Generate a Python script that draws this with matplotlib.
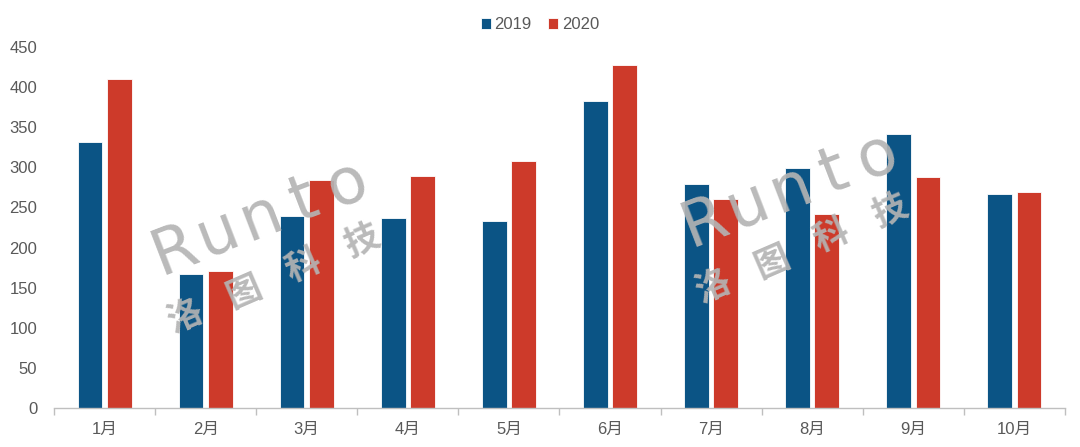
import matplotlib
matplotlib.use("Agg")
import matplotlib.pyplot as plt
import numpy as np

months = ["1月", "2月", "3月", "4月", "5月", "6月", "7月", "8月", "9月", "10月"]
v2019 = [331, 167, 239, 237, 233, 383, 279, 299, 341, 267]
v2020 = [410, 171, 284, 289, 308, 428, 260, 242, 288, 269]
yticks = [0, 50, 100, 150, 200, 250, 300, 350, 400, 450]

plt.rcParams['font.family'] = ['Liberation Sans', 'Noto Sans CJK SC', 'DejaVu Sans']

c19 = "#0b5485"
c20 = "#cd3a2a"

W, H = 1080, 447
fig = plt.figure(figsize=(10.8, 4.47), dpi=100)
ax = fig.add_axes([0.05, 0.087, 0.936, 0.808])
x = np.arange(len(months))
w = 0.245
ax.bar(x - 0.145, v2019, w, color=c19, edgecolor="white", linewidth=0.6, label="2019", zorder=2)
ax.bar(x + 0.145, v2020, w, color=c20, edgecolor="white", linewidth=0.6, label="2020", zorder=2)

ax.set_xlim(-0.5, len(months) - 0.5)
ax.set_ylim(0, 450)
ax.set_yticks(yticks)
ax.set_xticks(x)
ax.set_xticklabels(months)
ax.set_xticks(np.arange(-0.5, len(months)), minor=True)
ax.tick_params(axis='x', which='major', length=0, pad=10, labelsize=12, labelcolor="#595959")
ax.tick_params(axis='x', which='minor', length=5, color="#bfbfbf", width=1)
ax.tick_params(axis='y', length=0, labelsize=12, labelcolor="#595959", pad=12)
for s in ["top", "right", "left"]:
    ax.spines[s].set_visible(False)
ax.spines["bottom"].set_color("#bfbfbf")
ax.spines["bottom"].set_linewidth(1)

leg = fig.legend(loc="upper center", bbox_to_anchor=(0.5, 0.995), ncol=2, frameon=False,
                 fontsize=12, handlelength=0.6, handleheight=0.6, handletextpad=0.2,
                 columnspacing=1.0, labelcolor="#595959")

# watermarks (pixel positions of first letter / char, measured from top-left)
wm = "#b4b4b4"
def place(chars, x0, y0, pitch, ang, size, fam, weight):
    a = np.deg2rad(ang)
    for i, ch in enumerate(chars):
        px = x0 + i * pitch * np.cos(a)
        py = y0 - i * pitch * np.sin(a)
        fig.text(px / W, 1 - py / H, ch, fontsize=size, color=wm, rotation=ang,
                 ha="center", va="center", rotation_mode="anchor",
                 family=fam, fontweight=weight, alpha=0.92, zorder=5)

for (rx, ry, cx, cy) in [(175, 250, 185, 317), (705, 222, 713, 287)]:
    place("Runto", rx, ry, 46, 21, 46, ["DejaVu Sans"], "normal")
    place("洛图科技", cx, cy, 64, 23.4, 25, ["Noto Sans CJK SC"], "bold")

fig.savefig("out.png", dpi=100)
